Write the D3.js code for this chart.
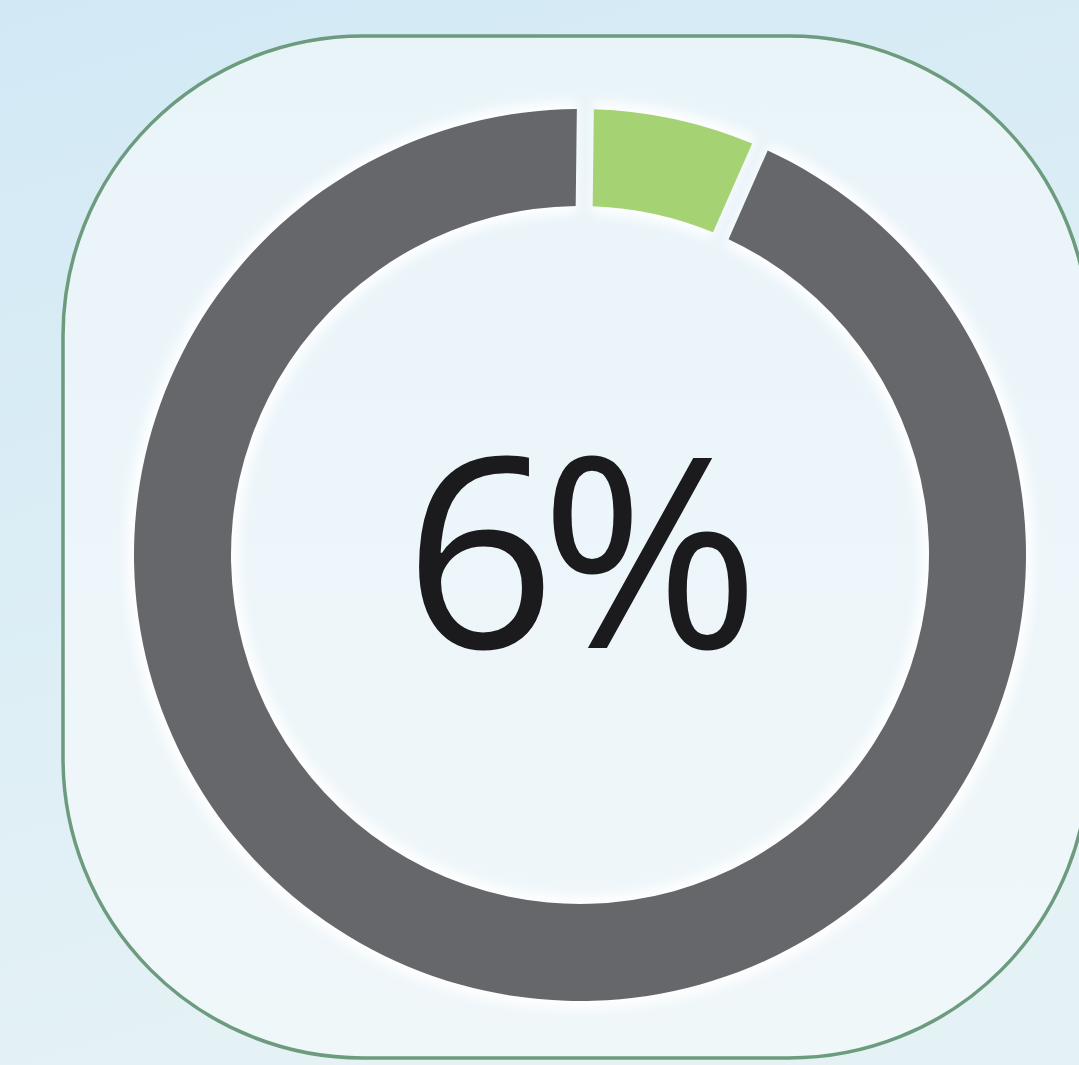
<!DOCTYPE html>
<html><head><meta charset="utf-8">
<script src="https://cdn.jsdelivr.net/npm/d3@7"></script>
<style>html,body{margin:0;padding:0;overflow:hidden;background:#d8ecf5}</style>
</head><body>
<script>
const categories = ["Share", "Rest"];
const values = [6, 94];
const labelText = "6%";
const colors = ["#a5d374", "#66676a"];

const W = 1079, H = 1065;
const svg = d3.select("body").append("svg").attr("width", W).attr("height", H);
const defs = svg.append("defs");

const bg = defs.append("linearGradient").attr("id","bg").attr("x1","0").attr("y1","0").attr("x2","0.3").attr("y2","1");
bg.append("stop").attr("offset","0").attr("stop-color","#d2e9f5");
bg.append("stop").attr("offset","1").attr("stop-color","#e5f2f5");
const inner = defs.append("linearGradient").attr("id","inner").attr("x1","0").attr("y1","0").attr("x2","0").attr("y2","1");
inner.append("stop").attr("offset","0").attr("stop-color","#e9f4f9");
inner.append("stop").attr("offset","1").attr("stop-color","#f0f7f9");
const glow = defs.append("filter").attr("id","glow").attr("x","-20%").attr("y","-20%").attr("width","140%").attr("height","140%");
glow.append("feGaussianBlur").attr("stdDeviation", 6);

svg.append("rect").attr("width", W).attr("height", H).attr("fill","url(#bg)");

// rounded panel
svg.append("rect").attr("x", 63).attr("y", 36).attr("width", 1026).attr("height", 1022)
  .attr("rx", 300).attr("ry", 300)
  .attr("fill", "url(#inner)").attr("stroke", "#6c9b7d").attr("stroke-width", 3.5);

const cx = 580, cy = 555, rOuter = 446, rInner = 349;
const g = svg.append("g").attr("transform", `translate(${cx},${cy})`);

const pie = d3.pie().sort(null).value(d => d).startAngle(0.012).endAngle(0.012 + 2*Math.PI).padAngle(0.03);
const arcs = pie(values);
const arc = d3.arc().innerRadius(rInner).outerRadius(rOuter);
const arcGlow = d3.arc().innerRadius(rInner - 8).outerRadius(rOuter + 8);

// white halo
g.selectAll("path.halo").data(arcs).join("path").attr("class","halo")
  .attr("d", arcGlow).attr("fill", "#ffffff").attr("opacity", 0.95).attr("filter","url(#glow)");

g.selectAll("path.slice").data(arcs).join("path").attr("class","slice")
  .attr("d", arc).attr("fill", (d, i) => colors[i]);

g.append("text").attr("x", -6).attr("y", 93)
  .attr("text-anchor", "middle")
  .attr("font-family", "'Open Sans', sans-serif")
  .attr("font-size", 266)
  .attr("letter-spacing", -16)
  .attr("fill", "#1b1b1d")
  .text(labelText);
</script>
</body></html>
